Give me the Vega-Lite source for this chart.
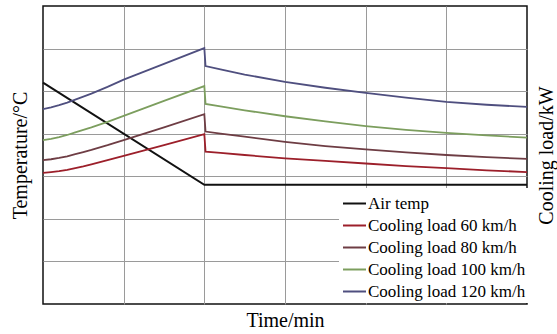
{
  "$schema": "https://vega.github.io/schema/vega-lite/v6.json",
  "width": 484,
  "height": 298,
  "autosize": {"type": "none"},
  "padding": {"left": 43, "top": 6, "right": 30, "bottom": 30},
  "background": "white",
  "config": {
    "view": {"stroke": "#111", "strokeWidth": 1.5},
    "font": "Liberation Serif"
  },
  "data": {
    "values": [
      {"t": 0, "v": 52, "s": "Air temp"},
      {"t": 20, "v": 28, "s": "Air temp"},
      {"t": 60, "v": 28, "s": "Air temp"},
      {"t": 0, "v": 30.8, "s": "Cooling load 60 km/h"},
      {"t": 1, "v": 31.0, "s": "Cooling load 60 km/h"},
      {"t": 2, "v": 31.2, "s": "Cooling load 60 km/h"},
      {"t": 3, "v": 31.5, "s": "Cooling load 60 km/h"},
      {"t": 4, "v": 31.9, "s": "Cooling load 60 km/h"},
      {"t": 5, "v": 32.3, "s": "Cooling load 60 km/h"},
      {"t": 6, "v": 32.8, "s": "Cooling load 60 km/h"},
      {"t": 8, "v": 33.8, "s": "Cooling load 60 km/h"},
      {"t": 10, "v": 34.8, "s": "Cooling load 60 km/h"},
      {"t": 15, "v": 37.3, "s": "Cooling load 60 km/h"},
      {"t": 20, "v": 39.9, "s": "Cooling load 60 km/h"},
      {"t": 20.15, "v": 35.8, "s": "Cooling load 60 km/h"},
      {"t": 22, "v": 35.5, "s": "Cooling load 60 km/h"},
      {"t": 25, "v": 35.0, "s": "Cooling load 60 km/h"},
      {"t": 30, "v": 34.2, "s": "Cooling load 60 km/h"},
      {"t": 35, "v": 33.6, "s": "Cooling load 60 km/h"},
      {"t": 40, "v": 33.0, "s": "Cooling load 60 km/h"},
      {"t": 45, "v": 32.4, "s": "Cooling load 60 km/h"},
      {"t": 50, "v": 31.9, "s": "Cooling load 60 km/h"},
      {"t": 55, "v": 31.4, "s": "Cooling load 60 km/h"},
      {"t": 60, "v": 31.0, "s": "Cooling load 60 km/h"},
      {"t": 0, "v": 33.8, "s": "Cooling load 80 km/h"},
      {"t": 1, "v": 34.0, "s": "Cooling load 80 km/h"},
      {"t": 2, "v": 34.3, "s": "Cooling load 80 km/h"},
      {"t": 3, "v": 34.7, "s": "Cooling load 80 km/h"},
      {"t": 4, "v": 35.2, "s": "Cooling load 80 km/h"},
      {"t": 5, "v": 35.7, "s": "Cooling load 80 km/h"},
      {"t": 6, "v": 36.2, "s": "Cooling load 80 km/h"},
      {"t": 8, "v": 37.3, "s": "Cooling load 80 km/h"},
      {"t": 10, "v": 38.5, "s": "Cooling load 80 km/h"},
      {"t": 15, "v": 41.5, "s": "Cooling load 80 km/h"},
      {"t": 20, "v": 44.6, "s": "Cooling load 80 km/h"},
      {"t": 20.15, "v": 40.5, "s": "Cooling load 80 km/h"},
      {"t": 22, "v": 40.0, "s": "Cooling load 80 km/h"},
      {"t": 25, "v": 39.3, "s": "Cooling load 80 km/h"},
      {"t": 30, "v": 38.1, "s": "Cooling load 80 km/h"},
      {"t": 35, "v": 37.1, "s": "Cooling load 80 km/h"},
      {"t": 40, "v": 36.3, "s": "Cooling load 80 km/h"},
      {"t": 45, "v": 35.6, "s": "Cooling load 80 km/h"},
      {"t": 50, "v": 35.0, "s": "Cooling load 80 km/h"},
      {"t": 55, "v": 34.5, "s": "Cooling load 80 km/h"},
      {"t": 60, "v": 34.1, "s": "Cooling load 80 km/h"},
      {"t": 0, "v": 38.5, "s": "Cooling load 100 km/h"},
      {"t": 1, "v": 38.8, "s": "Cooling load 100 km/h"},
      {"t": 2, "v": 39.2, "s": "Cooling load 100 km/h"},
      {"t": 3, "v": 39.7, "s": "Cooling load 100 km/h"},
      {"t": 4, "v": 40.3, "s": "Cooling load 100 km/h"},
      {"t": 5, "v": 40.9, "s": "Cooling load 100 km/h"},
      {"t": 6, "v": 41.5, "s": "Cooling load 100 km/h"},
      {"t": 8, "v": 42.8, "s": "Cooling load 100 km/h"},
      {"t": 10, "v": 44.2, "s": "Cooling load 100 km/h"},
      {"t": 15, "v": 47.7, "s": "Cooling load 100 km/h"},
      {"t": 20, "v": 51.2, "s": "Cooling load 100 km/h"},
      {"t": 20.15, "v": 47.0, "s": "Cooling load 100 km/h"},
      {"t": 22, "v": 46.4, "s": "Cooling load 100 km/h"},
      {"t": 25, "v": 45.5, "s": "Cooling load 100 km/h"},
      {"t": 30, "v": 44.1, "s": "Cooling load 100 km/h"},
      {"t": 35, "v": 42.9, "s": "Cooling load 100 km/h"},
      {"t": 40, "v": 41.8, "s": "Cooling load 100 km/h"},
      {"t": 45, "v": 40.9, "s": "Cooling load 100 km/h"},
      {"t": 50, "v": 40.2, "s": "Cooling load 100 km/h"},
      {"t": 55, "v": 39.6, "s": "Cooling load 100 km/h"},
      {"t": 60, "v": 39.1, "s": "Cooling load 100 km/h"},
      {"t": 0, "v": 45.8, "s": "Cooling load 120 km/h"},
      {"t": 1, "v": 46.2, "s": "Cooling load 120 km/h"},
      {"t": 2, "v": 46.7, "s": "Cooling load 120 km/h"},
      {"t": 3, "v": 47.3, "s": "Cooling load 120 km/h"},
      {"t": 4, "v": 48.0, "s": "Cooling load 120 km/h"},
      {"t": 5, "v": 48.7, "s": "Cooling load 120 km/h"},
      {"t": 6, "v": 49.4, "s": "Cooling load 120 km/h"},
      {"t": 8, "v": 51.0, "s": "Cooling load 120 km/h"},
      {"t": 10, "v": 52.7, "s": "Cooling load 120 km/h"},
      {"t": 15, "v": 56.4, "s": "Cooling load 120 km/h"},
      {"t": 20, "v": 60.1, "s": "Cooling load 120 km/h"},
      {"t": 20.15, "v": 55.9, "s": "Cooling load 120 km/h"},
      {"t": 22, "v": 55.1, "s": "Cooling load 120 km/h"},
      {"t": 25, "v": 53.9, "s": "Cooling load 120 km/h"},
      {"t": 30, "v": 52.2, "s": "Cooling load 120 km/h"},
      {"t": 35, "v": 50.8, "s": "Cooling load 120 km/h"},
      {"t": 40, "v": 49.6, "s": "Cooling load 120 km/h"},
      {"t": 45, "v": 48.5, "s": "Cooling load 120 km/h"},
      {"t": 50, "v": 47.5, "s": "Cooling load 120 km/h"},
      {"t": 55, "v": 46.8, "s": "Cooling load 120 km/h"},
      {"t": 60, "v": 46.3, "s": "Cooling load 120 km/h"}
    ]
  },
  "encoding": {
    "x": {
      "field": "t", "type": "quantitative",
      "scale": {"domain": [0, 60], "nice": false, "zero": false},
      "axis": {
        "title": "Time/min", "titleFont": "Liberation Serif", "titleFontSize": 20,
        "titleFontWeight": "normal", "titleColor": "#000", "titlePadding": 6,
        "labels": false, "ticks": false, "domain": false,
        "grid": true, "values": [10, 20, 30, 40, 50],
        "gridColor": "#9a9a9a", "gridWidth": 1, "gridOpacity": 1
      }
    },
    "color": {
      "field": "s", "type": "nominal",
      "scale": {
        "domain": ["Air temp", "Cooling load 60 km/h", "Cooling load 80 km/h", "Cooling load 100 km/h", "Cooling load 120 km/h"],
        "range": ["#111111", "#9c1f2a", "#6e3d44", "#7c9e5e", "#4f4f7f"]
      },
      "legend": {
        "title": null, "orient": "none", "legendX": 296, "legendY": 182,
        "direction": "vertical",
        "fillColor": "white", "padding": 3,
        "symbolType": "stroke", "symbolSize": 529, "symbolStrokeWidth": 2,
        "labelFont": "Liberation Serif", "labelFontSize": 17, "labelColor": "#000",
        "labelOffset": 1, "rowPadding": 1, "labelLimit": 300
      }
    }
  },
  "layer": [
    {
      "transform": [{"filter": "datum.s === 'Air temp'"}],
      "mark": {"type": "line", "strokeWidth": 2},
      "encoding": {
        "y": {
          "field": "v", "type": "quantitative",
          "scale": {"domain": [0, 70], "nice": false},
          "axis": {
            "orient": "left",
            "title": "Temperature/°C", "titleFont": "Liberation Serif", "titleFontSize": 20,
            "titleFontWeight": "normal", "titleColor": "#000", "titlePadding": 13,
            "labels": false, "ticks": false, "domain": false,
            "grid": true, "values": [10, 20, 30, 40, 50, 60],
            "gridColor": "#9a9a9a", "gridWidth": 1, "gridOpacity": 1
          }
        }
      }
    },
    {
      "transform": [{"filter": "datum.s !== 'Air temp'"}],
      "mark": {"type": "line", "strokeWidth": 1.8},
      "encoding": {
        "y": {
          "field": "v", "type": "quantitative",
          "scale": {"domain": [0, 70], "nice": false},
          "axis": {
            "orient": "right",
            "title": "Cooling load/kW", "titleFont": "Liberation Serif", "titleFontSize": 20,
            "titleFontWeight": "normal", "titleColor": "#000", "titlePadding": 9,
            "titleAngle": 270, "titleBaseline": "top",
            "labels": false, "ticks": false, "domain": false, "grid": false
          }
        }
      }
    }
  ],
  "resolve": {"scale": {"y": "independent"}, "axis": {"y": "independent"}}
}
